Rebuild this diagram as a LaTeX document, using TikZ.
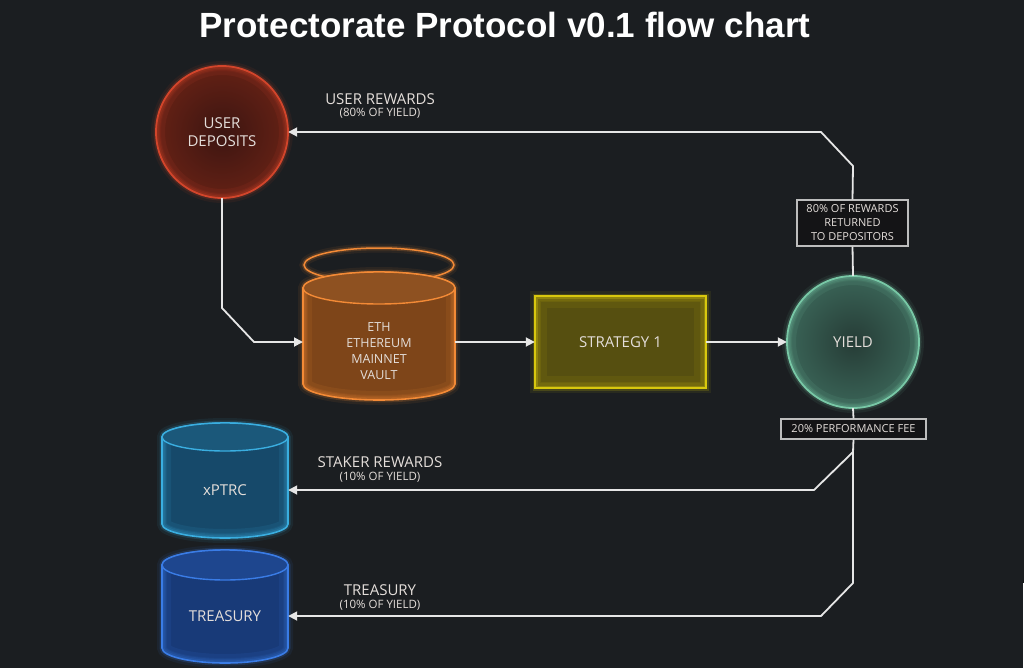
\documentclass[tikz,border=0pt]{standalone}
\usepackage{fontspec}
\setmainfont{Liberation Sans}
\newfontfamily\osans{Open Sans}
\usetikzlibrary{arrows.meta,shapes.geometric}
\definecolor{bg}{HTML}{1B1E21}
\definecolor{wire}{HTML}{E6E6E6}
\definecolor{txt}{HTML}{E4DEDA}
\definecolor{tagline}{HTML}{BDBDBD}
\definecolor{tagfill}{HTML}{141416}
\definecolor{udin}{HTML}{3C1511}
\definecolor{udout}{HTML}{642115}
\definecolor{udline}{HTML}{D2452B}
\definecolor{yin}{HTML}{263C36}
\definecolor{yout}{HTML}{3A6457}
\definecolor{yline}{HTML}{78C8A6}
\definecolor{sfill}{HTML}{564F10}
\definecolor{sline}{HTML}{D8C80E}
\definecolor{ethfill}{HTML}{7E4519}
\definecolor{ethtop}{HTML}{8E5121}
\definecolor{ethline}{HTML}{F38A36}
\definecolor{xfill}{HTML}{16496A}
\definecolor{xtop}{HTML}{1B587A}
\definecolor{xline}{HTML}{3AAEE0}
\definecolor{tfill}{HTML}{183A78}
\definecolor{ttop}{HTML}{1E468E}
\definecolor{tline}{HTML}{3A7CE6}
% cylinder: cx, top y, bottom y, rx, ry, body fill, stroke, top fill
\newcommand\mycyl[8]{%
  \fill[#6] ({#1-#4},#2) -- ({#1-#4},#3) arc[start angle=180,end angle=0,x radius=#4,y radius=#5] -- ({#1+#4},#2) arc[start angle=0,end angle=-180,x radius=#4,y radius=#5] -- cycle;
  \draw[#7,line width=10pt,opacity=.08] ({#1-#4},#2) -- ({#1-#4},#3) arc[start angle=180,end angle=0,x radius=#4,y radius=#5] -- ({#1+#4},#2) arc[start angle=0,end angle=-180,x radius=#4,y radius=#5] -- cycle;
  \draw[#7,line width=5pt,opacity=.18] ({#1-#4},#2) -- ({#1-#4},#3) arc[start angle=180,end angle=0,x radius=#4,y radius=#5] -- ({#1+#4},#2) arc[start angle=0,end angle=-180,x radius=#4,y radius=#5] -- cycle;
  \begin{scope}
    \clip ({#1-#4},#2) -- ({#1-#4},#3) arc[start angle=180,end angle=0,x radius=#4,y radius=#5] -- ({#1+#4},#2) arc[start angle=0,end angle=-180,x radius=#4,y radius=#5] -- cycle;
    \draw[#7,line width=18pt,opacity=.10] ({#1-#4},#2) -- ({#1-#4},#3) arc[start angle=180,end angle=0,x radius=#4,y radius=#5] -- ({#1+#4},#2) arc[start angle=0,end angle=-180,x radius=#4,y radius=#5] -- cycle;
    \draw[#7,line width=8pt,opacity=.14] ({#1-#4},#2) -- ({#1-#4},#3) arc[start angle=180,end angle=0,x radius=#4,y radius=#5] -- ({#1+#4},#2) arc[start angle=0,end angle=-180,x radius=#4,y radius=#5] -- cycle;
  \end{scope}
  \draw[#7,line width=1.6pt] ({#1-#4},#2) -- ({#1-#4},#3) arc[start angle=180,end angle=0,x radius=#4,y radius=#5] -- ({#1+#4},#2) arc[start angle=0,end angle=-180,x radius=#4,y radius=#5] -- cycle;
  \fill[#8] (#1,#2) ellipse[x radius=#4,y radius=#5];
  \draw[#7,line width=1.4pt] (#1,#2) ellipse[x radius=#4,y radius=#5];
}
\begin{document}
\begin{tikzpicture}[x=1pt,y=-1pt,
  conn/.style={draw=wire,line width=1.8pt,line join=round},
  arr/.style={conn,-{Triangle[length=9pt,width=9pt]}},
  ntext/.style={text=txt,font=\osans\fontsize{15}{18}\selectfont,align=center,inner sep=0pt},
  ethtext/.style={text=txt,font=\osans\fontsize{12.5}{16}\selectfont,align=center,inner sep=0pt},
  lbig/.style={text=txt,font=\osans\fontsize{15}{15}\selectfont,inner sep=0pt},
  lsmall/.style={text=txt,font=\osans\fontsize{11.5}{12}\selectfont,inner sep=0pt},
  tagbox/.style={draw=tagline,fill=tagfill,line width=1.2pt,text=txt,font=\osans\fontsize{11}{14}\selectfont,align=center,inner sep=0pt},
  anchorbox/.style={inner sep=0pt,outer sep=0pt},
]
\fill[bg] (0,0) rectangle (1024,668);
\useasboundingbox (0,0) rectangle (1024,668);
\fill[white] (1022.5,583) rectangle (1024,668);

% title
\node[anchor=base,text=white,font=\bfseries\fontsize{35}{40}\selectfont,inner sep=0pt] (title) at (505,38) {Protectorate Protocol v0.1 flow chart};

% USER DEPOSITS circle
\shade[inner color=udin,outer color=udout] (222,132) circle (66);
\draw[udline,line width=10pt,opacity=.08] (222,132) circle (66);
\draw[udline,line width=5pt,opacity=.18] (222,132) circle (66);
\begin{scope}\clip (222,132) circle (66);\draw[udline,line width=18pt,opacity=.10] (222,132) circle (66);\draw[udline,line width=8pt,opacity=.14] (222,132) circle (66);\end{scope}
\draw[udline,line width=1.8pt] (222,132) circle (66);
\node[ntext,circle,minimum size=132pt] (ud) at (222,132) {USER\\DEPOSITS};

% ETH vault
\draw[ethline,line width=9pt,opacity=.08] (379,265) ellipse[x radius=75,y radius=17];
\draw[ethline,line width=4.5pt,opacity=.2] (379,265) ellipse[x radius=75,y radius=17];
\draw[ethline,line width=1.5pt] (379,265) ellipse[x radius=75,y radius=17];
\mycyl{379}{288}{384}{76}{16}{ethfill}{ethline}{ethtop}
\node[anchorbox,minimum width=152pt,minimum height=90pt] (eth) at (379,342) {};
\node[ethtext] (ethtxt) at (379,351) {ETH\\ETHEREUM\\MAINNET\\VAULT};

% STRATEGY 1
\fill[sfill] (535,296) rectangle (706,388);
\draw[sline,line width=10pt,opacity=.08] (535,296) rectangle (706,388);
\draw[sline,line width=5pt,opacity=.18] (535,296) rectangle (706,388);
\begin{scope}\clip (535,296) rectangle (706,388);\draw[sline,line width=24pt,opacity=.08] (535,296) rectangle (706,388);\draw[sline,line width=12pt,opacity=.10] (535,296) rectangle (706,388);\draw[sline,line width=5pt,opacity=.14] (535,296) rectangle (706,388);\end{scope}
\draw[sline,line width=1.6pt] (535,296) rectangle (706,388);
\node[ntext,minimum width=171pt,minimum height=92pt] (strat) at (620.5,342) {STRATEGY 1};

% YIELD circle
\shade[inner color=yin,outer color=yout] (853,342) circle (66);
\draw[yline,line width=10pt,opacity=.08] (853,342) circle (66);
\draw[yline,line width=5pt,opacity=.18] (853,342) circle (66);
\begin{scope}\clip (853,342) circle (66);\draw[yline,line width=18pt,opacity=.10] (853,342) circle (66);\draw[yline,line width=8pt,opacity=.14] (853,342) circle (66);\end{scope}
\draw[yline,line width=1.8pt] (853,342) circle (66);
\node[ntext,circle,minimum size=132pt] (yield) at (853,342) {YIELD};

% xPTRC and TREASURY
\mycyl{225}{437}{524}{63}{14}{xfill}{xline}{xtop}
\node[ntext,minimum width=126pt,minimum height=80pt] (xptrc) at (225,490) {xPTRC};
\mycyl{225}{565}{648}{63}{15}{tfill}{tline}{ttop}
\node[ntext,minimum width=126pt,minimum height=80pt] (trs) at (225,616) {TREASURY};

% tag boxes
\node[tagbox,minimum width=111pt,minimum height=46pt] (rew) at (852.5,223) {80\% OF REWARDS\\RETURNED\\TO DEPOSITORS};
\node[tagbox,minimum width=145pt,minimum height=20pt] (fee) at (853.5,429) {20\% PERFORMANCE FEE};

% connectors
\draw[arr] (ud.south) -- (222,308) -- (254,342) -- (eth.west);
\draw[arr] (eth.east) -- (strat.west);
\draw[arr] (strat.east) -- (yield.west);
\draw[conn] (yield.north) -- (rew.south);
\draw[arr] (rew.north) -- (853,166) -- (821,132) -- (ud.east);
\draw[conn] (yield.south) -- (fee.north);
\coordinate (split) at (853,452);
\draw[arr] (fee.south) -- (split) -- (814,490) -- (xptrc.east);
\draw[arr] (split) -- (853,583) -- (821,616) -- (trs.east);

% labels
\node[lbig] (l1a) at (380,99) {USER REWARDS};
\node[lsmall] (l1b) at (380,113) {(80\% OF YIELD)};
\node[lbig] (l2a) at (380,462) {STAKER REWARDS};
\node[lsmall] (l2b) at (380,477) {(10\% OF YIELD)};
\node[lbig] (l3a) at (380,590) {TREASURY};
\node[lsmall] (l3b) at (380,605) {(10\% OF YIELD)};
\end{tikzpicture}
\end{document}
